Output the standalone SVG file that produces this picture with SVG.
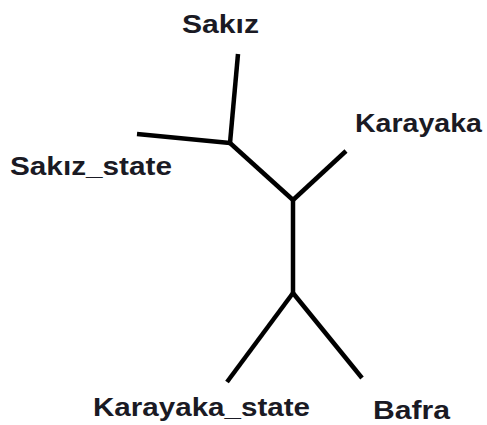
<svg xmlns="http://www.w3.org/2000/svg" width="487" height="425" viewBox="0 0 487 425">
<style>
.lbl{font-family:"Liberation Sans",Arial,sans-serif;font-weight:bold;font-size:25px;fill:#1a1a24}
.edge{stroke:#000;stroke-width:4.5;fill:none;stroke-linecap:butt;stroke-linejoin:round}
</style>
<rect width="487" height="425" fill="#fff"/>
<g id="connectors">
<polyline class="edge" points="238,54 230,143"/>
<polyline class="edge" points="137,134 230,143"/>
<polyline class="edge" points="230,143 293,200"/>
<polyline class="edge" points="346,151 293,200"/>
<polyline class="edge" points="293,200 293,293"/>
<polyline class="edge" points="293,293 227,382"/>
<polyline class="edge" points="293,293 362,378"/>
</g>
<g id="sakiz"><text class="lbl" x="182" y="33" textLength="77" lengthAdjust="spacingAndGlyphs">Sakız</text></g>
<g id="sakiz_state"><text class="lbl" x="10" y="175" textLength="162" lengthAdjust="spacingAndGlyphs">Sakız_state</text></g>
<g id="karayaka"><text class="lbl" x="355" y="132" textLength="127" lengthAdjust="spacingAndGlyphs">Karayaka</text></g>
<g id="karayaka_state"><text class="lbl" x="93" y="416" textLength="217" lengthAdjust="spacingAndGlyphs">Karayaka_state</text></g>
<g id="bafra"><text class="lbl" x="373" y="419" textLength="77" lengthAdjust="spacingAndGlyphs">Bafra</text></g>
</svg>
